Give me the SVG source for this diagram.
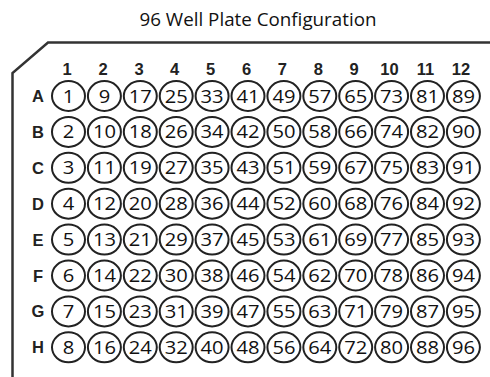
<svg xmlns="http://www.w3.org/2000/svg" width="490" height="377" viewBox="0 0 490 377">
<style>
.bg{fill:#fff}
.plate{fill:none;stroke:#333;stroke-width:2.5}
.title{font-family:"Open Sans","Liberation Sans",sans-serif;font-size:18px;fill:#111;text-anchor:middle}
.hdr{font-family:"Liberation Sans",Arial,sans-serif;font-weight:bold;font-size:16.5px;fill:#222;text-anchor:middle}
.well ellipse{fill:#fff;stroke:#222;stroke-width:2}
.well text{font-family:"Open Sans","Liberation Sans",sans-serif;font-size:18px;fill:#111;text-anchor:middle;transform:scaleX(1.12)}
</style>
<rect class="bg" width="490" height="377"/>
<text class="title" x="258" y="26" textLength="237" lengthAdjust="spacingAndGlyphs">96 Well Plate Configuration</text>
<g id="plate"><path class="plate" d="M490,42.5 H48 L12.5,73 V377"/></g>
<g id="col-headers">
<text class="hdr" x="67" y="74.5">1</text>
<text class="hdr" x="103" y="74.5">2</text>
<text class="hdr" x="139" y="74.5">3</text>
<text class="hdr" x="174.7" y="74.5">4</text>
<text class="hdr" x="210.6" y="74.5">5</text>
<text class="hdr" x="246.5" y="74.5">6</text>
<text class="hdr" x="282.4" y="74.5">7</text>
<text class="hdr" x="318.3" y="74.5">8</text>
<text class="hdr" x="354.2" y="74.5">9</text>
<text class="hdr" x="389.5" y="74.5">10</text>
<text class="hdr" x="425.5" y="74.5">11</text>
<text class="hdr" x="461" y="74.5">12</text>
</g>
<g id="row-headers">
<text class="hdr" x="38" y="102">A</text>
<text class="hdr" x="38" y="137.9">B</text>
<text class="hdr" x="38" y="173.8">C</text>
<text class="hdr" x="38" y="209.7">D</text>
<text class="hdr" x="38" y="245.6">E</text>
<text class="hdr" x="38" y="281.5">F</text>
<text class="hdr" x="38" y="317.4">G</text>
<text class="hdr" x="38" y="353.3">H</text>
</g>
<g id="wells">
<g id="w1" class="well" transform="translate(68.5,96)"><ellipse rx="16.5" ry="15"/><text y="6.5">1</text></g>
<g id="w2" class="well" transform="translate(68.5,131.9)"><ellipse rx="16.5" ry="15"/><text y="6.5">2</text></g>
<g id="w3" class="well" transform="translate(68.5,167.8)"><ellipse rx="16.5" ry="15"/><text y="6.5">3</text></g>
<g id="w4" class="well" transform="translate(68.5,203.7)"><ellipse rx="16.5" ry="15"/><text y="6.5">4</text></g>
<g id="w5" class="well" transform="translate(68.5,239.6)"><ellipse rx="16.5" ry="15"/><text y="6.5">5</text></g>
<g id="w6" class="well" transform="translate(68.5,275.5)"><ellipse rx="16.5" ry="15"/><text y="6.5">6</text></g>
<g id="w7" class="well" transform="translate(68.5,311.4)"><ellipse rx="16.5" ry="15"/><text y="6.5">7</text></g>
<g id="w8" class="well" transform="translate(68.5,347.3)"><ellipse rx="16.5" ry="15"/><text y="6.5">8</text></g>
<g id="w9" class="well" transform="translate(104.4,96)"><ellipse rx="16.5" ry="15"/><text y="6.5">9</text></g>
<g id="w10" class="well" transform="translate(104.4,131.9)"><ellipse rx="16.5" ry="15"/><text y="6.5">10</text></g>
<g id="w11" class="well" transform="translate(104.4,167.8)"><ellipse rx="16.5" ry="15"/><text y="6.5">11</text></g>
<g id="w12" class="well" transform="translate(104.4,203.7)"><ellipse rx="16.5" ry="15"/><text y="6.5">12</text></g>
<g id="w13" class="well" transform="translate(104.4,239.6)"><ellipse rx="16.5" ry="15"/><text y="6.5">13</text></g>
<g id="w14" class="well" transform="translate(104.4,275.5)"><ellipse rx="16.5" ry="15"/><text y="6.5">14</text></g>
<g id="w15" class="well" transform="translate(104.4,311.4)"><ellipse rx="16.5" ry="15"/><text y="6.5">15</text></g>
<g id="w16" class="well" transform="translate(104.4,347.3)"><ellipse rx="16.5" ry="15"/><text y="6.5">16</text></g>
<g id="w17" class="well" transform="translate(140.3,96)"><ellipse rx="16.5" ry="15"/><text y="6.5">17</text></g>
<g id="w18" class="well" transform="translate(140.3,131.9)"><ellipse rx="16.5" ry="15"/><text y="6.5">18</text></g>
<g id="w19" class="well" transform="translate(140.3,167.8)"><ellipse rx="16.5" ry="15"/><text y="6.5">19</text></g>
<g id="w20" class="well" transform="translate(140.3,203.7)"><ellipse rx="16.5" ry="15"/><text y="6.5">20</text></g>
<g id="w21" class="well" transform="translate(140.3,239.6)"><ellipse rx="16.5" ry="15"/><text y="6.5">21</text></g>
<g id="w22" class="well" transform="translate(140.3,275.5)"><ellipse rx="16.5" ry="15"/><text y="6.5">22</text></g>
<g id="w23" class="well" transform="translate(140.3,311.4)"><ellipse rx="16.5" ry="15"/><text y="6.5">23</text></g>
<g id="w24" class="well" transform="translate(140.3,347.3)"><ellipse rx="16.5" ry="15"/><text y="6.5">24</text></g>
<g id="w25" class="well" transform="translate(176.2,96)"><ellipse rx="16.5" ry="15"/><text y="6.5">25</text></g>
<g id="w26" class="well" transform="translate(176.2,131.9)"><ellipse rx="16.5" ry="15"/><text y="6.5">26</text></g>
<g id="w27" class="well" transform="translate(176.2,167.8)"><ellipse rx="16.5" ry="15"/><text y="6.5">27</text></g>
<g id="w28" class="well" transform="translate(176.2,203.7)"><ellipse rx="16.5" ry="15"/><text y="6.5">28</text></g>
<g id="w29" class="well" transform="translate(176.2,239.6)"><ellipse rx="16.5" ry="15"/><text y="6.5">29</text></g>
<g id="w30" class="well" transform="translate(176.2,275.5)"><ellipse rx="16.5" ry="15"/><text y="6.5">30</text></g>
<g id="w31" class="well" transform="translate(176.2,311.4)"><ellipse rx="16.5" ry="15"/><text y="6.5">31</text></g>
<g id="w32" class="well" transform="translate(176.2,347.3)"><ellipse rx="16.5" ry="15"/><text y="6.5">32</text></g>
<g id="w33" class="well" transform="translate(212.1,96)"><ellipse rx="16.5" ry="15"/><text y="6.5">33</text></g>
<g id="w34" class="well" transform="translate(212.1,131.9)"><ellipse rx="16.5" ry="15"/><text y="6.5">34</text></g>
<g id="w35" class="well" transform="translate(212.1,167.8)"><ellipse rx="16.5" ry="15"/><text y="6.5">35</text></g>
<g id="w36" class="well" transform="translate(212.1,203.7)"><ellipse rx="16.5" ry="15"/><text y="6.5">36</text></g>
<g id="w37" class="well" transform="translate(212.1,239.6)"><ellipse rx="16.5" ry="15"/><text y="6.5">37</text></g>
<g id="w38" class="well" transform="translate(212.1,275.5)"><ellipse rx="16.5" ry="15"/><text y="6.5">38</text></g>
<g id="w39" class="well" transform="translate(212.1,311.4)"><ellipse rx="16.5" ry="15"/><text y="6.5">39</text></g>
<g id="w40" class="well" transform="translate(212.1,347.3)"><ellipse rx="16.5" ry="15"/><text y="6.5">40</text></g>
<g id="w41" class="well" transform="translate(248,96)"><ellipse rx="16.5" ry="15"/><text y="6.5">41</text></g>
<g id="w42" class="well" transform="translate(248,131.9)"><ellipse rx="16.5" ry="15"/><text y="6.5">42</text></g>
<g id="w43" class="well" transform="translate(248,167.8)"><ellipse rx="16.5" ry="15"/><text y="6.5">43</text></g>
<g id="w44" class="well" transform="translate(248,203.7)"><ellipse rx="16.5" ry="15"/><text y="6.5">44</text></g>
<g id="w45" class="well" transform="translate(248,239.6)"><ellipse rx="16.5" ry="15"/><text y="6.5">45</text></g>
<g id="w46" class="well" transform="translate(248,275.5)"><ellipse rx="16.5" ry="15"/><text y="6.5">46</text></g>
<g id="w47" class="well" transform="translate(248,311.4)"><ellipse rx="16.5" ry="15"/><text y="6.5">47</text></g>
<g id="w48" class="well" transform="translate(248,347.3)"><ellipse rx="16.5" ry="15"/><text y="6.5">48</text></g>
<g id="w49" class="well" transform="translate(283.9,96)"><ellipse rx="16.5" ry="15"/><text y="6.5">49</text></g>
<g id="w50" class="well" transform="translate(283.9,131.9)"><ellipse rx="16.5" ry="15"/><text y="6.5">50</text></g>
<g id="w51" class="well" transform="translate(283.9,167.8)"><ellipse rx="16.5" ry="15"/><text y="6.5">51</text></g>
<g id="w52" class="well" transform="translate(283.9,203.7)"><ellipse rx="16.5" ry="15"/><text y="6.5">52</text></g>
<g id="w53" class="well" transform="translate(283.9,239.6)"><ellipse rx="16.5" ry="15"/><text y="6.5">53</text></g>
<g id="w54" class="well" transform="translate(283.9,275.5)"><ellipse rx="16.5" ry="15"/><text y="6.5">54</text></g>
<g id="w55" class="well" transform="translate(283.9,311.4)"><ellipse rx="16.5" ry="15"/><text y="6.5">55</text></g>
<g id="w56" class="well" transform="translate(283.9,347.3)"><ellipse rx="16.5" ry="15"/><text y="6.5">56</text></g>
<g id="w57" class="well" transform="translate(319.8,96)"><ellipse rx="16.5" ry="15"/><text y="6.5">57</text></g>
<g id="w58" class="well" transform="translate(319.8,131.9)"><ellipse rx="16.5" ry="15"/><text y="6.5">58</text></g>
<g id="w59" class="well" transform="translate(319.8,167.8)"><ellipse rx="16.5" ry="15"/><text y="6.5">59</text></g>
<g id="w60" class="well" transform="translate(319.8,203.7)"><ellipse rx="16.5" ry="15"/><text y="6.5">60</text></g>
<g id="w61" class="well" transform="translate(319.8,239.6)"><ellipse rx="16.5" ry="15"/><text y="6.5">61</text></g>
<g id="w62" class="well" transform="translate(319.8,275.5)"><ellipse rx="16.5" ry="15"/><text y="6.5">62</text></g>
<g id="w63" class="well" transform="translate(319.8,311.4)"><ellipse rx="16.5" ry="15"/><text y="6.5">63</text></g>
<g id="w64" class="well" transform="translate(319.8,347.3)"><ellipse rx="16.5" ry="15"/><text y="6.5">64</text></g>
<g id="w65" class="well" transform="translate(355.7,96)"><ellipse rx="16.5" ry="15"/><text y="6.5">65</text></g>
<g id="w66" class="well" transform="translate(355.7,131.9)"><ellipse rx="16.5" ry="15"/><text y="6.5">66</text></g>
<g id="w67" class="well" transform="translate(355.7,167.8)"><ellipse rx="16.5" ry="15"/><text y="6.5">67</text></g>
<g id="w68" class="well" transform="translate(355.7,203.7)"><ellipse rx="16.5" ry="15"/><text y="6.5">68</text></g>
<g id="w69" class="well" transform="translate(355.7,239.6)"><ellipse rx="16.5" ry="15"/><text y="6.5">69</text></g>
<g id="w70" class="well" transform="translate(355.7,275.5)"><ellipse rx="16.5" ry="15"/><text y="6.5">70</text></g>
<g id="w71" class="well" transform="translate(355.7,311.4)"><ellipse rx="16.5" ry="15"/><text y="6.5">71</text></g>
<g id="w72" class="well" transform="translate(355.7,347.3)"><ellipse rx="16.5" ry="15"/><text y="6.5">72</text></g>
<g id="w73" class="well" transform="translate(391.6,96)"><ellipse rx="16.5" ry="15"/><text y="6.5">73</text></g>
<g id="w74" class="well" transform="translate(391.6,131.9)"><ellipse rx="16.5" ry="15"/><text y="6.5">74</text></g>
<g id="w75" class="well" transform="translate(391.6,167.8)"><ellipse rx="16.5" ry="15"/><text y="6.5">75</text></g>
<g id="w76" class="well" transform="translate(391.6,203.7)"><ellipse rx="16.5" ry="15"/><text y="6.5">76</text></g>
<g id="w77" class="well" transform="translate(391.6,239.6)"><ellipse rx="16.5" ry="15"/><text y="6.5">77</text></g>
<g id="w78" class="well" transform="translate(391.6,275.5)"><ellipse rx="16.5" ry="15"/><text y="6.5">78</text></g>
<g id="w79" class="well" transform="translate(391.6,311.4)"><ellipse rx="16.5" ry="15"/><text y="6.5">79</text></g>
<g id="w80" class="well" transform="translate(391.6,347.3)"><ellipse rx="16.5" ry="15"/><text y="6.5">80</text></g>
<g id="w81" class="well" transform="translate(427.5,96)"><ellipse rx="16.5" ry="15"/><text y="6.5">81</text></g>
<g id="w82" class="well" transform="translate(427.5,131.9)"><ellipse rx="16.5" ry="15"/><text y="6.5">82</text></g>
<g id="w83" class="well" transform="translate(427.5,167.8)"><ellipse rx="16.5" ry="15"/><text y="6.5">83</text></g>
<g id="w84" class="well" transform="translate(427.5,203.7)"><ellipse rx="16.5" ry="15"/><text y="6.5">84</text></g>
<g id="w85" class="well" transform="translate(427.5,239.6)"><ellipse rx="16.5" ry="15"/><text y="6.5">85</text></g>
<g id="w86" class="well" transform="translate(427.5,275.5)"><ellipse rx="16.5" ry="15"/><text y="6.5">86</text></g>
<g id="w87" class="well" transform="translate(427.5,311.4)"><ellipse rx="16.5" ry="15"/><text y="6.5">87</text></g>
<g id="w88" class="well" transform="translate(427.5,347.3)"><ellipse rx="16.5" ry="15"/><text y="6.5">88</text></g>
<g id="w89" class="well" transform="translate(463.4,96)"><ellipse rx="16.5" ry="15"/><text y="6.5">89</text></g>
<g id="w90" class="well" transform="translate(463.4,131.9)"><ellipse rx="16.5" ry="15"/><text y="6.5">90</text></g>
<g id="w91" class="well" transform="translate(463.4,167.8)"><ellipse rx="16.5" ry="15"/><text y="6.5">91</text></g>
<g id="w92" class="well" transform="translate(463.4,203.7)"><ellipse rx="16.5" ry="15"/><text y="6.5">92</text></g>
<g id="w93" class="well" transform="translate(463.4,239.6)"><ellipse rx="16.5" ry="15"/><text y="6.5">93</text></g>
<g id="w94" class="well" transform="translate(463.4,275.5)"><ellipse rx="16.5" ry="15"/><text y="6.5">94</text></g>
<g id="w95" class="well" transform="translate(463.4,311.4)"><ellipse rx="16.5" ry="15"/><text y="6.5">95</text></g>
<g id="w96" class="well" transform="translate(463.4,347.3)"><ellipse rx="16.5" ry="15"/><text y="6.5">96</text></g>
</g>
</svg>
